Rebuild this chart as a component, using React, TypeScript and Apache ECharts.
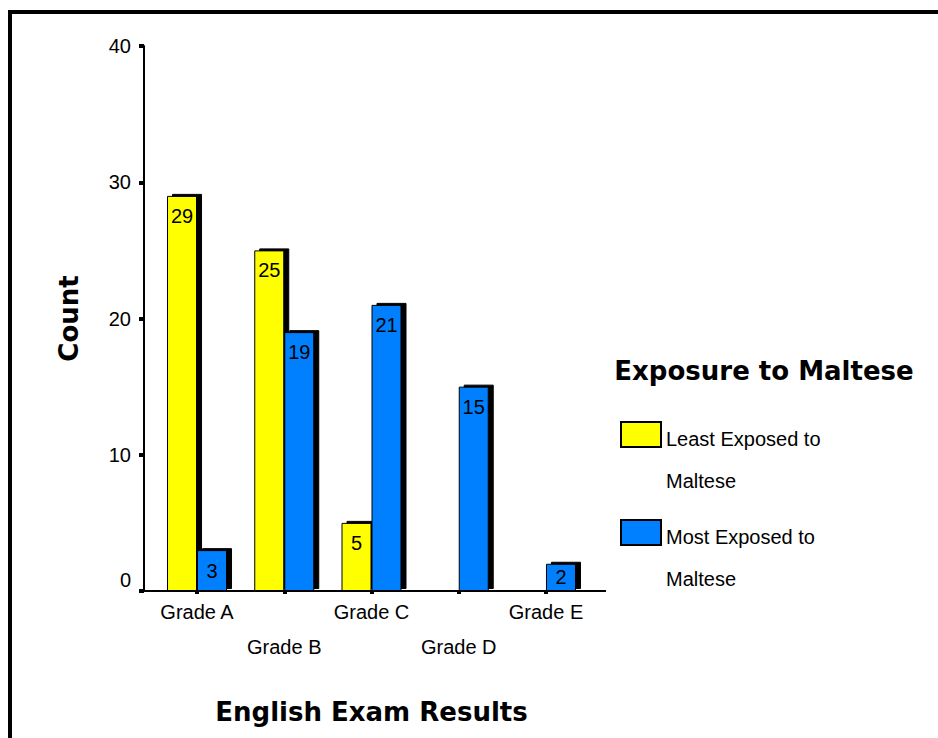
import React, { useEffect, useRef } from "react";
import * as echarts from "echarts";

const categories = ["Grade A", "Grade B", "Grade C", "Grade D", "Grade E"];
const leastExposed = [29, 25, 5, 0, 0];
const mostExposed = [3, 19, 21, 15, 2];
const seriesNames = ["Least Exposed to Maltese", "Most Exposed to Maltese"];
const legendTitle = "Exposure to Maltese";
const xTitle = "English Exam Results";
const yTitle = "Count";

const SANS = "'Liberation Sans', Arial, sans-serif";
const BOLD = "'DejaVu Sans', 'Liberation Sans', sans-serif";

function toItems(values: number[]) {
  return values.map((v) => {
    if (v === 0) return { value: v, itemStyle: { opacity: 0 }, label: { show: false } };
    if (v <= 3) return { value: v, label: { position: "inside" } };
    return v;
  });
}

export default function App() {
  const ref = useRef<HTMLDivElement>(null);
  useEffect(() => {
    if (!ref.current) return;
    const chart = echarts.init(ref.current, null, { renderer: "svg" });
    const barStyle = (color: string) => ({
      color,
      borderColor: "#000",
      borderWidth: 1,
      shadowColor: "#000",
      shadowBlur: 0,
      shadowOffsetX: 5,
      shadowOffsetY: -2,
    });
    const label = {
      show: true,
      position: "insideTop" as const,
      distance: 10,
      color: "#000",
      fontFamily: SANS,
      fontSize: 20,
    };
    chart.setOption({
      animation: false,
      backgroundColor: "#fff",
      grid: { left: 153.4, right: 938 - 589.6, top: 46, bottom: 738 - 591 },
      legend: {
        orient: "vertical",
        left: 615,
        top: 377.5,
        itemWidth: 40,
        itemHeight: 25,
        itemGap: -10,
        icon: "rect",
        selectedMode: false,
        data: seriesNames,
        formatter: (name: string) => {
          const parts = name.split(" to ");
          return "{s| }\n{a|" + parts[0] + " to}\n{a|" + parts[1] + "}";
        },
        itemStyle: { borderColor: "#000", borderWidth: 2 },
        textStyle: {
          fontFamily: SANS,
          fontSize: 20,
          color: "#000",
          rich: {
            s: { fontFamily: SANS, fontSize: 20, lineHeight: 50 },
            a: { fontFamily: SANS, fontSize: 20, color: "#000", lineHeight: 42 },
          },
        },
      },
      xAxis: {
        type: "category",
        data: categories,
        name: xTitle,
        nameLocation: "middle",
        nameGap: 108,
        nameTextStyle: { fontFamily: BOLD, fontWeight: "bold", fontSize: 26, color: "#000" },
        axisLine: { show: false },
        axisTick: { show: true, alignWithLabel: true, length: 3, lineStyle: { color: "#000", width: 4 } },
        axisLabel: {
          margin: 3,
          fontFamily: SANS,
          fontSize: 20,
          color: "#000",
          lineHeight: 35,
          interval: 0,
          formatter: (v: string, i: number) => (i % 2 === 1 ? "\n" + v : v),
        },
      },
      yAxis: {
        type: "value",
        min: 0,
        max: 40,
        interval: 10,
        offset: 9.4,
        name: yTitle,
        nameLocation: "middle",
        nameRotate: 90,
        nameGap: 62,
        nameTextStyle: { fontFamily: BOLD, fontWeight: "bold", fontSize: 26, color: "#000" },
        splitLine: { show: false },
        axisLine: { show: true, lineStyle: { color: "#000", width: 2 } },
        axisTick: { show: true, length: 5, lineStyle: { color: "#000", width: 4 } },
        axisLabel: {
          margin: 13,
          fontFamily: SANS,
          fontSize: 20,
          color: "#000",
          formatter: (v: number) => (v === 0 ? "{z|0}" : String(v)),
          rich: { z: { fontFamily: SANS, fontSize: 20, color: "#000", padding: [0, 0, 22, 0] } },
        },
      },
      series: [
        {
          name: seriesNames[0],
          type: "bar",
          data: toItems(leastExposed),
          barWidth: 30,
          barGap: "0%",
          itemStyle: barStyle("#ffff00"),
          label,
        },
        {
          name: seriesNames[1],
          type: "bar",
          data: toItems(mostExposed),
          barWidth: 30,
          barGap: "0%",
          itemStyle: barStyle("#0080ff"),
          label,
        },
      ],
      graphic: [
        {
          type: "rect",
          shape: { x: 10, y: 12, width: 1200, height: 1200 },
          style: { fill: "none", stroke: "#000", lineWidth: 4 },
          silent: true,
        },
        {
          type: "line",
          shape: { x1: 144, y1: 591, x2: 606, y2: 591 },
          style: { stroke: "#000", lineWidth: 2 },
          silent: true,
          z: 10,
        },
        {
          type: "text",
          x: 764,
          y: 371,
          style: {
            text: legendTitle,
            fontFamily: BOLD,
            fontWeight: "bold",
            fontSize: 26,
            fill: "#000",
            textAlign: "center",
            textVerticalAlign: "middle",
          },
        },
      ],
    });
    return () => chart.dispose();
  }, []);
  return (
    <div
      ref={ref}
      style={{ position: "fixed", left: 0, top: 0, width: 938, height: 738 }}
    />
  );
}
